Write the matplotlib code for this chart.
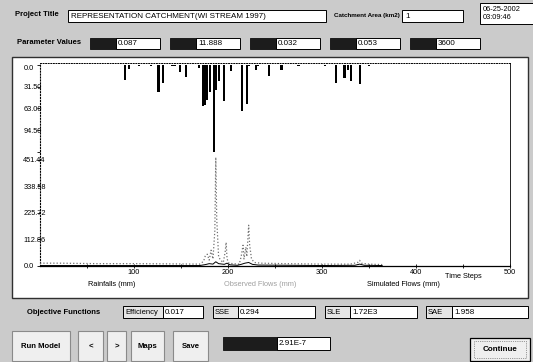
import matplotlib
matplotlib.use("Agg")
import matplotlib.pyplot as plt
from matplotlib.patches import Rectangle

# ---------------- data ----------------
project_title = "REPRESENTATION CATCHMENT(WI STREAM 1997)"
catchment_area = "1"
date_text = "06-25-2002\n03:09:46"
param_values = ["0.087", "11.888", "0.032", "0.053", "3600"]
objective_names = ["Efficiency", "SSE", "SLE", "SAE"]
objective_values = ["0.017", "0.294", "1.72E3", "1.958"]
extra_value = "2.91E-7"
buttons = ["Run Model", "<", ">", "Maps", "Save"]

rain_t = [90, 95, 105, 118, 126, 131, 140, 143, 149, 155, 169, 173, 175.5, 178, 181,
          185, 187, 190, 196, 203, 214.5, 220, 222, 230, 232, 244, 257, 275, 303,
          315, 324, 328, 330.5, 340, 350]
rain_mm = [22, 6, 2, 2, 39, 26, 2, 2, 10, 17, 4.4, 59, 58, 51, 39,
           126, 36, 23, 52, 9, 67, 57, 1, 7, 2, 16, 7, 1, 1,
           26, 19, 7, 23, 28, 1]

obs_t = [0, 20, 60, 100, 140, 170, 174, 176, 178, 180, 182, 184, 186, 187, 188, 190,
         192, 195, 197, 198, 199, 201, 205, 212, 214, 216, 217, 219, 220, 222, 223,
         225, 228, 235, 260, 300, 330, 338, 340, 342, 350, 364]
obs_q = [12, 12, 10, 10, 9, 8, 20, 45, 50, 25, 67, 30, 150, 461, 200, 40,
         25, 15, 60, 100, 30, 12, 10, 8, 40, 88, 30, 80, 40, 173, 90,
         30, 15, 12, 10, 8, 8, 15, 24, 12, 8, 6]

sim_t = [0, 100, 170, 176, 180, 184, 187, 190, 196, 199, 202, 210, 214, 218, 222,
         226, 232, 300, 335, 340, 345, 364]
sim_q = [2, 2, 2, 6, 10, 8, 18, 10, 7, 12, 5, 3, 7, 12, 15,
         7, 4, 2, 3, 8, 3, 2]

rain_ticks = [0, 31.5, 63.0, 94.5, 126.0]
rain_ticklabels = ["0.0", "31.50", "63.00", "94.50", ""]
flow_ticks = [0, 112.86, 225.72, 338.58, 451.44]
flow_ticklabels = ["0.0", "112.86", "225.72", "338.58", "451.44"]
x_ticks = [100, 200, 300, 400, 500]
x_minor = [50, 150, 250, 350, 450]
legend_labels = ["Rainfalls (mm)", "Observed Flows (mm)", "Simulated Flows (mm)"]

# ---------------- figure ----------------
W, H = 533, 362
BG = "#cbcbcb"
FONT = "Liberation Sans"
fig = plt.figure(figsize=(W / 100, H / 100), dpi=100, facecolor=BG)

ui = fig.add_axes([0, 0, 1, 1])
ui.set_xlim(0, W)
ui.set_ylim(H, 0)
ui.axis("off")
ui.set_facecolor(BG)


def box(x0, y0, x1, y1, fc="white", ec="black", lw=0.7, ls="-", z=1):
    ui.add_patch(Rectangle((x0, y0), x1 - x0, y1 - y0, facecolor=fc, edgecolor=ec,
                           lw=lw, ls=ls, zorder=z))


def txt(x, y, s, size=5.5, bold=False, ha="left", color="black", z=3):
    ui.text(x, y, s, fontsize=size, fontfamily=FONT, fontweight="bold" if bold else "normal",
            ha=ha, va="center", color=color, zorder=z)


# top row
txt(15, 15, "Project Title", bold=True)
box(68, 10, 326, 22)
txt(71, 16, project_title, size=5.8)
txt(334, 15, "Catchment Area (km2)", bold=True, size=4.5)
box(402, 10, 463, 22)
txt(405, 16, catchment_area, size=5.8)
box(480, 3, 534, 24)
ui.text(483, 13.5, date_text, fontsize=5.3, fontfamily=FONT, va="center", ha="left",
        linespacing=1.15, zorder=3)

# parameter row
txt(17, 43, "Parameter Values", bold=True)
blk = [90, 170, 250, 330, 410]
for x0, v in zip(blk, param_values):
    box(x0, 38, x0 + 26, 49, fc="#1c1c1c", ec="#1c1c1c")
    box(x0 + 26, 38, x0 + 70, 49)
    txt(x0 + 28, 43.5, v, size=5.8)

# plot panel
box(12, 57, 528, 298, fc="white", ec="#303030", lw=1.0, z=0.5)

# bottom row
txt(27, 312, "Objective Functions", bold=True)
obj_boxes = [(123, 163, 203), (213, 238, 315), (325, 350, 417), (426, 452, 528)]
for (a, b, c), n, v in zip(obj_boxes, objective_names, objective_values):
    box(a, 306, b, 318, fc="#e6e6e6")
    txt(a + 2, 312, n, size=5.5)
    box(b, 306, c, 318)
    txt(b + 2, 312, v, size=5.8)

btn_boxes = [(12, 70), (78, 103), (107, 126), (131, 164), (173, 208)]
for (a, b), n in zip(btn_boxes, buttons):
    box(a, 331, b, 361, fc="#efefef", ec="#8a8a8a", lw=0.8)
    txt((a + b) / 2, 347, n, bold=True, ha="center", size=5.6)
box(223, 337, 277, 350, fc="#1c1c1c", ec="#1c1c1c")
box(277, 337, 330, 350)
txt(279, 343.5, extra_value, size=5.8)
box(470, 338, 530, 361, fc="#efefef", ec="black", lw=0.9)
box(474, 341, 526, 358, fc="none", ec="#444444", lw=0.5, ls=":")
txt(500, 349.5, "Continue", bold=True, ha="center", size=5.8)

# ---------------- chart ----------------
L, R, T, B = 40, 510, 63, 266
ax = fig.add_axes([L / W, 1 - B / H, (R - L) / W, (B - T) / H])
ax.set_facecolor("white")
ax.set_xlim(0, 500)
ax.set_ylim(0, (B - T) / 0.2357)

ax.plot(obs_t, obs_q, color="#707070", lw=0.9, ls=":", zorder=3)
ax.plot(sim_t, sim_q, color="black", lw=0.7, zorder=4)

ax2 = ax.twinx()
ax2.set_ylim((B - 65) / 0.689, -(65 - T) / 0.689)
ax2.bar(rain_t, rain_mm, width=2.3, color="black", zorder=2)

for a in (ax, ax2):
    for s in a.spines.values():
        s.set_visible(False)
ax.spines["left"].set_visible(True)
ax.spines["left"].set_linestyle(":")
ax.spines["left"].set_linewidth(0.8)
ax.spines["bottom"].set_visible(True)
ax.spines["bottom"].set_linewidth(0.9)
ax.spines["top"].set_visible(True)
ax.spines["top"].set_linestyle(":")
ax.spines["top"].set_linewidth(0.7)
ax.spines["right"].set_visible(True)
ax.spines["right"].set_linewidth(0.6)

ax.set_xticks(x_ticks)
ax.set_xticklabels([str(v) for v in x_ticks])
ax.set_xticks(x_minor, minor=True)
ax.tick_params(axis="x", which="both", direction="inout", length=3, width=0.6,
               labelsize=5.3, pad=1)

ax.set_yticks(flow_ticks)
ax.set_yticklabels(flow_ticklabels)
ax2.yaxis.set_ticks_position("left")
ax2.yaxis.set_label_position("left")
ax2.set_yticks(rain_ticks)
ax2.set_yticklabels(rain_ticklabels)
for a in (ax, ax2):
    a.tick_params(axis="y", direction="out", length=2, width=0.6, labelsize=5.3, pad=10)
    for lab in a.get_yticklabels():
        lab.set_horizontalalignment("left")
        lab.set_fontfamily(FONT)
for lab in ax.get_xticklabels():
    lab.set_fontfamily(FONT)
# rain "0.0" label sits slightly below its tick
ax2.get_yticklabels()[0].set_va("top")

txt(445, 277, "Time Steps", size=5.3)
txt(112, 285, legend_labels[0], size=5.3, ha="center")
txt(260, 285, legend_labels[1], size=5.3, ha="center", color="#a0a0a0")
txt(403, 285, legend_labels[2], size=5.3, ha="center")

fig.savefig("out.png", dpi=100, facecolor=BG)
